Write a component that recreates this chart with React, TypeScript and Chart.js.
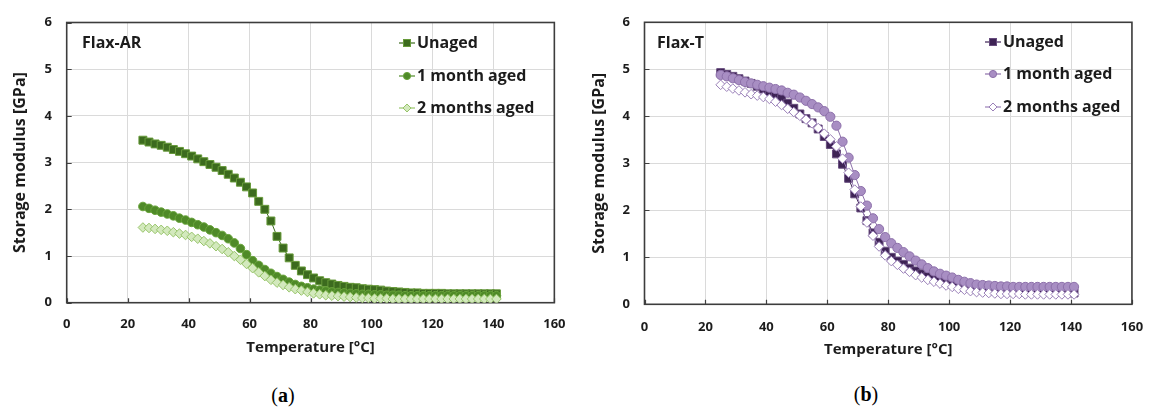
import React, { useEffect, useRef } from 'react';
import { Chart, registerables } from 'chart.js';

Chart.register(...registerables);

// ---------------- data ----------------
const temps = [25, 27, 29, 31, 33, 35, 37, 39, 41, 43, 45, 47, 49, 51, 53, 55, 57, 59, 61, 63, 65, 67, 69, 71, 73, 75, 77, 79, 81, 83, 85, 87, 89, 91, 93, 95, 97, 99, 101, 103, 105, 107, 109, 111, 113, 115, 117, 119, 121, 123, 125, 127, 129, 131, 133, 135, 137, 139, 141];

const arUnaged = [3.48, 3.44, 3.40, 3.37, 3.33, 3.28, 3.24, 3.19, 3.14, 3.08,
  3.02, 2.96, 2.90, 2.83, 2.75, 2.67, 2.58, 2.48, 2.35, 2.17,
  2.00, 1.75, 1.42, 1.17, 0.96, 0.80, 0.68, 0.60, 0.53, 0.47,
  0.43, 0.40, 0.37, 0.35, 0.33, 0.32, 0.30, 0.29, 0.28, 0.27,
  0.25, 0.24, 0.23, 0.22, 0.21, 0.21, 0.20, 0.20, 0.20, 0.20,
  0.19, 0.19, 0.19, 0.19, 0.19, 0.19, 0.19, 0.19, 0.19];

const arOneMonth = [2.06, 2.02, 1.98, 1.94, 1.90, 1.86, 1.81, 1.77, 1.72, 1.67,
  1.62, 1.56, 1.50, 1.44, 1.37, 1.28, 1.16, 1.03, 0.90, 0.80,
  0.71, 0.63, 0.56, 0.50, 0.44, 0.39, 0.35, 0.32, 0.29, 0.27,
  0.25, 0.23, 0.22, 0.21, 0.20, 0.19, 0.18, 0.18, 0.17, 0.17,
  0.16, 0.16, 0.16, 0.15, 0.15, 0.15, 0.15, 0.15, 0.15, 0.15,
  0.15, 0.15, 0.15, 0.15, 0.15, 0.15, 0.15, 0.15, 0.15];

const arTwoMonths = [1.61, 1.60, 1.58, 1.56, 1.54, 1.51, 1.48, 1.45, 1.41, 1.37,
  1.32, 1.27, 1.21, 1.15, 1.08, 1.00, 0.92, 0.83, 0.74, 0.65,
  0.57, 0.49, 0.43, 0.38, 0.33, 0.29, 0.26, 0.23, 0.20, 0.18,
  0.16, 0.15, 0.14, 0.13, 0.12, 0.11, 0.10, 0.10, 0.09, 0.09,
  0.09, 0.08, 0.08, 0.08, 0.08, 0.08, 0.08, 0.08, 0.08, 0.08,
  0.08, 0.08, 0.08, 0.08, 0.08, 0.08, 0.08, 0.08, 0.08];

const tUnaged = [4.93, 4.89, 4.85, 4.80, 4.75, 4.70, 4.64, 4.58, 4.52, 4.45,
  4.38, 4.28, 4.17, 4.05, 3.95, 3.86, 3.73, 3.57, 3.40, 3.20,
  2.98, 2.68, 2.35, 2.05, 1.78, 1.52, 1.32, 1.13, 1.00, 0.92,
  0.85, 0.77, 0.71, 0.65, 0.60, 0.55, 0.51, 0.47, 0.43, 0.40,
  0.37, 0.34, 0.32, 0.31, 0.30, 0.29, 0.29, 0.29, 0.29, 0.29,
  0.29, 0.29, 0.29, 0.29, 0.29, 0.29, 0.29, 0.28, 0.24];

const tOneMonth = [4.88, 4.85, 4.81, 4.77, 4.73, 4.70, 4.67, 4.64, 4.61, 4.58,
  4.55, 4.50, 4.46, 4.40, 4.33, 4.26, 4.19, 4.11, 3.99, 3.80,
  3.46, 3.12, 2.75, 2.41, 2.10, 1.83, 1.60, 1.43, 1.30, 1.20,
  1.11, 1.02, 0.93, 0.85, 0.77, 0.70, 0.65, 0.61, 0.57, 0.52,
  0.48, 0.45, 0.42, 0.41, 0.40, 0.39, 0.38, 0.38, 0.37, 0.37,
  0.37, 0.37, 0.37, 0.37, 0.37, 0.37, 0.37, 0.37, 0.37];

const tTwoMonths = [4.67, 4.63, 4.59, 4.55, 4.51, 4.47, 4.44, 4.41, 4.37, 4.31,
  4.24, 4.16, 4.09, 4.01, 3.93, 3.85, 3.75, 3.63, 3.51, 3.36,
  3.10, 2.80, 2.44, 2.08, 1.74, 1.46, 1.23, 1.04, 0.92, 0.84,
  0.76, 0.69, 0.62, 0.57, 0.52, 0.48, 0.44, 0.40, 0.37, 0.33,
  0.31, 0.28, 0.26, 0.25, 0.24, 0.23, 0.22, 0.22, 0.22, 0.22,
  0.21, 0.21, 0.21, 0.21, 0.21, 0.21, 0.21, 0.21, 0.21];

const seriesLabels = ['Unaged', '1 month aged', '2 months aged'];
const xTitle = 'Temperature [°C]';
const yTitle = 'Storage modulus [GPa]';

// ---------------- styles ----------------
const FONT = "'Open Sans', 'DejaVu Sans', sans-serif";
const TEXT = '#1c1c1c';

type Style = { shape: string; fill: string; stroke: string; line: string; radius: number };

const greenStyles: Style[] = [
  { shape: 'rect', fill: '#3c6b1e', stroke: '#679a3a', line: '#3c6b1e', radius: 5.6 },
  { shape: 'circle', fill: '#4f8a28', stroke: '#69a43b', line: '#4f8a28', radius: 4.3 },
  { shape: 'rectRot', fill: '#d3e9bd', stroke: '#97c46a', line: '#97c46a', radius: 4.8 },
];
const purpleStyles: Style[] = [
  { shape: 'rect', fill: '#3e2355', stroke: '#674c7e', line: '#3e2355', radius: 5.6 },
  { shape: 'circle', fill: '#a88ec3', stroke: '#8d70aa', line: '#8d70aa', radius: 4.6 },
  { shape: 'rectRot', fill: '#ffffff', stroke: '#9a80b8', line: '#9a80b8', radius: 4.8 },
];

type Spec = {
  W: number; H: number;
  area: { left: number; top: number; right: number; bottom: number };
  series: number[][];
  styles: Style[];
  xTickPad: number; yTickPad: number; xTitlePad: number; yTitlePad: number;
};

const frameTicksPlugin = {
  id: 'frameTicks',
  beforeDatasetsDraw(chart: any) {
    const { ctx, chartArea, scales } = chart;
    ctx.save();
    ctx.strokeStyle = '#404040';
    ctx.lineWidth = 1.2;
    ctx.beginPath();
    scales.x.ticks.forEach((t: any) => {
      const px = Math.round(scales.x.getPixelForValue(t.value)) + 0.5;
      ctx.moveTo(px, chartArea.bottom);
      ctx.lineTo(px, chartArea.bottom - 4.5);
    });
    scales.y.ticks.forEach((t: any) => {
      const py = Math.round(scales.y.getPixelForValue(t.value)) + 0.5;
      ctx.moveTo(chartArea.left, py);
      ctx.lineTo(chartArea.left + 5, py);
    });
    ctx.stroke();
    ctx.lineWidth = 1.6;
    ctx.strokeStyle = '#3d3d3d';
    ctx.strokeRect(chartArea.left, chartArea.top, chartArea.right - chartArea.left, chartArea.bottom - chartArea.top);
    ctx.restore();
  },
};

function buildConfig(spec: Spec): any {
  const { W, H, area } = spec;
  return {
    type: 'line',
    data: {
      datasets: spec.series.map((vals, i) => {
        const st = spec.styles[i];
        return {
          label: seriesLabels[i],
          data: temps.map((t, j) => ({ x: t, y: vals[j] })),
          borderColor: st.line,
          borderWidth: 1,
          pointStyle: st.shape,
          pointRadius: st.radius,
          pointBackgroundColor: st.fill,
          pointBorderColor: st.stroke,
          pointBorderWidth: 1,
          tension: 0,
          fill: false,
          order: 3 - i,
        };
      }),
    },
    options: {
      responsive: false,
      maintainAspectRatio: false,
      animation: false,
      devicePixelRatio: 1,
      events: [],
      layout: { padding: { left: 0, top: area.top, right: W - area.right, bottom: 0 } },
      plugins: { legend: { display: false }, tooltip: { enabled: false }, title: { display: false } },
      scales: {
        x: {
          type: 'linear',
          min: 0,
          max: 160,
          ticks: { stepSize: 20, padding: spec.xTickPad, color: TEXT, font: { family: FONT, size: 13, weight: 'bold' }, maxRotation: 0 },
          grid: { color: '#dadada', lineWidth: 1, drawTicks: false },
          border: { display: false },
          title: { display: true, text: xTitle, color: TEXT, font: { family: FONT, size: 15, weight: 'bold' }, padding: { top: 0, bottom: spec.xTitlePad } },
          afterFit: (s: any) => { s.height = H - area.bottom; },
        },
        y: {
          type: 'linear',
          min: 0,
          max: 6,
          ticks: { stepSize: 1, padding: spec.yTickPad, color: TEXT, font: { family: FONT, size: 13, weight: 'bold' } },
          grid: { color: '#dadada', lineWidth: 1, drawTicks: false },
          border: { display: false },
          title: { display: true, text: yTitle, color: TEXT, font: { family: FONT, size: 16, weight: 'bold' }, padding: { top: spec.yTitlePad, bottom: 0 } },
          afterFit: (s: any) => { s.width = area.left; },
        },
      },
    },
    plugins: [frameTicksPlugin],
  };
}

function Panel(props: { spec: Spec; left: number }) {
  const ref = useRef<HTMLCanvasElement | null>(null);
  useEffect(() => {
    if (!ref.current) return;
    const chart = new Chart(ref.current, buildConfig(props.spec));
    return () => chart.destroy();
  }, []);
  return (
    <canvas
      ref={ref}
      width={props.spec.W}
      height={props.spec.H}
      style={{ position: 'absolute', left: props.left, top: 0, width: props.spec.W, height: props.spec.H }}
    />
  );
}

function Marker({ st }: { st: Style }) {
  const c = 8;
  let shape: any = null;
  if (st.shape === 'rect') shape = <rect x={c - 3.5} y={1.5} width={7} height={7} fill={st.fill} stroke={st.stroke} strokeWidth={1} />;
  else if (st.shape === 'circle') shape = <circle cx={c} cy={5} r={3.6} fill={st.fill} stroke={st.stroke} strokeWidth={1} />;
  else shape = <polygon points={`${c},1 ${c + 4},5 ${c},9 ${c - 4},5`} fill={st.fill} stroke={st.stroke} strokeWidth={1} />;
  return (
    <svg width={16} height={10} style={{ display: 'block' }}>
      <line x1={0} y1={5} x2={16} y2={5} stroke={st.line} strokeWidth={1.2} />
      {shape}
    </svg>
  );
}

function Legend(props: { styles: Style[]; markerLeft: number; textLeft: number; rows: number[] }) {
  return (
    <>
      {props.styles.map((st, i) => (
        <React.Fragment key={i}>
          <div style={{ position: 'absolute', left: props.markerLeft, top: props.rows[i] - 5 }}>
            <Marker st={st} />
          </div>
          <div style={{ position: 'absolute', left: props.textLeft, top: props.rows[i] - 12, height: 24, lineHeight: '24px', font: `bold 16px ${FONT}`, color: TEXT, whiteSpace: 'nowrap' }}>
            {seriesLabels[i]}
          </div>
        </React.Fragment>
      ))}
    </>
  );
}

const leftSpec: Spec = {
  W: 579, H: 372,
  area: { left: 66.7, top: 19, right: 566, bottom: 302.7 },
  series: [arUnaged, arOneMonth, arTwoMonths],
  styles: greenStyles,
  xTickPad: 13.5, yTickPad: 14.7, xTitlePad: 15, yTitlePad: 10.4,
};

const rightSpec: Spec = {
  W: 579, H: 372,
  area: { left: 65.5, top: 20.7, right: 564, bottom: 304.3 },
  series: [tUnaged, tOneMonth, tTwoMonths],
  styles: purpleStyles,
  xTickPad: 14.9, yTickPad: 14.5, xTitlePad: 13, yTitlePad: 10.4,
};

export default function App() {
  const panelLabel = (text: string, left: number, cy: number) => (
    <div style={{ position: 'absolute', left, top: cy - 12, height: 24, lineHeight: '24px', font: `bold 16px ${FONT}`, color: TEXT, whiteSpace: 'nowrap' }}>{text}</div>
  );
  const letter = (l: string, cx: number, cy: number) => (
    <div style={{ position: 'absolute', left: cx - 30, top: cy - 12, width: 60, height: 24, lineHeight: '24px', textAlign: 'center', font: "20px 'Liberation Serif', 'DejaVu Serif', serif", color: '#000' }}>
      (<b>{l}</b>)
    </div>
  );
  return (
    <div style={{ position: 'absolute', left: 0, top: 0, width: 1158, height: 410, background: '#fff', overflow: 'hidden' }}>
      <Panel spec={leftSpec} left={0} />
      <Panel spec={rightSpec} left={579} />
      {panelLabel('Flax-AR', 82, 43)}
      {panelLabel('Flax-T', 657, 43)}
      <Legend styles={greenStyles} markerLeft={399} textLeft={417} rows={[43, 76, 108]} />
      <Legend styles={purpleStyles} markerLeft={985} textLeft={1003} rows={[42, 74, 107]} />
      {letter('a', 283, 396)}
      {letter('b', 866, 395)}
    </div>
  );
}
